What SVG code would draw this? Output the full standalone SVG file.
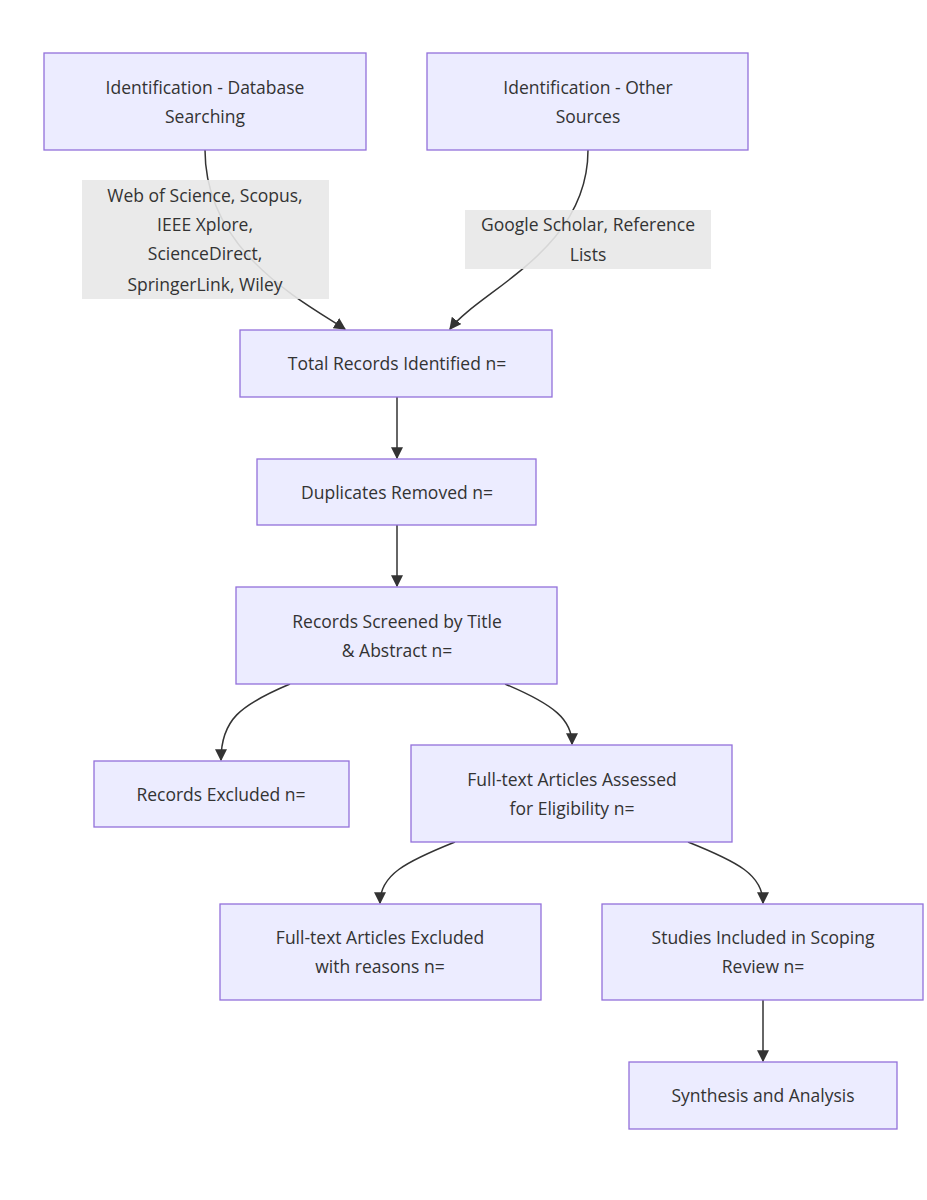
<svg xmlns="http://www.w3.org/2000/svg" width="927" height="1200" viewBox="0 0 927 1200">
<style>
.n rect{fill:#ECECFF;stroke:#9370DB;stroke-width:1.3}
text{font-family:"Open Sans","Liberation Sans",sans-serif;font-size:17.5px;fill:#333;text-anchor:middle}
.e path{fill:none;stroke:#333;stroke-width:1.5;marker-end:url(#a)}
.lb{fill:rgba(232,232,232,0.9)}
</style>
<defs><marker id="a" viewBox="0 0 10 10" refX="9" refY="5" markerWidth="8" markerHeight="8" orient="auto"><path d="M0,0L10,5L0,10z" fill="#333"/></marker></defs>
<rect width="927" height="1200" fill="#fff"/>
<g class="e">
<path d="M205,150 C205,250 300,300 345,329"/>
<path d="M588,150 C588,250 480,290 450,329"/>
<path d="M397,397 L397,458"/>
<path d="M397,525 L397,586"/>
<path d="M290,684 C240,705 221,720 221,760"/>
<path d="M505,684 C555,705 572,720 572,744"/>
<path d="M455,842 C405,862 380,875 380,903"/>
<path d="M688,842 C738,862 763,875 763,903"/>
<path d="M763,1000 L763,1061"/>
</g>
<g><rect class="lb" x="82" y="180" width="247" height="119"/>
<text x="205" y="202">Web of Science, Scopus,</text><text x="205" y="231">IEEE Xplore,</text><text x="205" y="260">ScienceDirect,</text><text x="205" y="291">SpringerLink, Wiley</text>
<rect class="lb" x="465" y="210" width="246" height="59"/>
<text x="588" y="231">Google Scholar, Reference</text><text x="588" y="261">Lists</text></g>
<g class="n" id="n1"><rect x="44" y="53" width="322" height="97"/><text x="205" y="94">Identification - Database</text><text x="205" y="123">Searching</text></g>
<g class="n" id="n2"><rect x="427" y="53" width="321" height="97"/><text x="588" y="94">Identification - Other</text><text x="588" y="123">Sources</text></g>
<g class="n" id="n3"><rect x="240" y="330" width="312" height="67"/><text x="397" y="370">Total Records Identified n=</text></g>
<g class="n" id="n4"><rect x="257" y="459" width="279" height="66"/><text x="397" y="499">Duplicates Removed n=</text></g>
<g class="n" id="n5"><rect x="236" y="587" width="321" height="97"/><text x="397" y="628">Records Screened by Title</text><text x="397" y="657">&amp; Abstract n=</text></g>
<g class="n" id="n6"><rect x="94" y="761" width="255" height="66"/><text x="221" y="801">Records Excluded n=</text></g>
<g class="n" id="n7"><rect x="411" y="745" width="321" height="97"/><text x="572" y="786">Full-text Articles Assessed</text><text x="572" y="815">for Eligibility n=</text></g>
<g class="n" id="n8"><rect x="220" y="904" width="321" height="96"/><text x="380" y="944">Full-text Articles Excluded</text><text x="380" y="973">with reasons n=</text></g>
<g class="n" id="n9"><rect x="602" y="904" width="321" height="96"/><text x="763" y="944">Studies Included in Scoping</text><text x="763" y="973">Review n=</text></g>
<g class="n" id="n10"><rect x="629" y="1062" width="268" height="67"/><text x="763" y="1102">Synthesis and Analysis</text></g>
</svg>
